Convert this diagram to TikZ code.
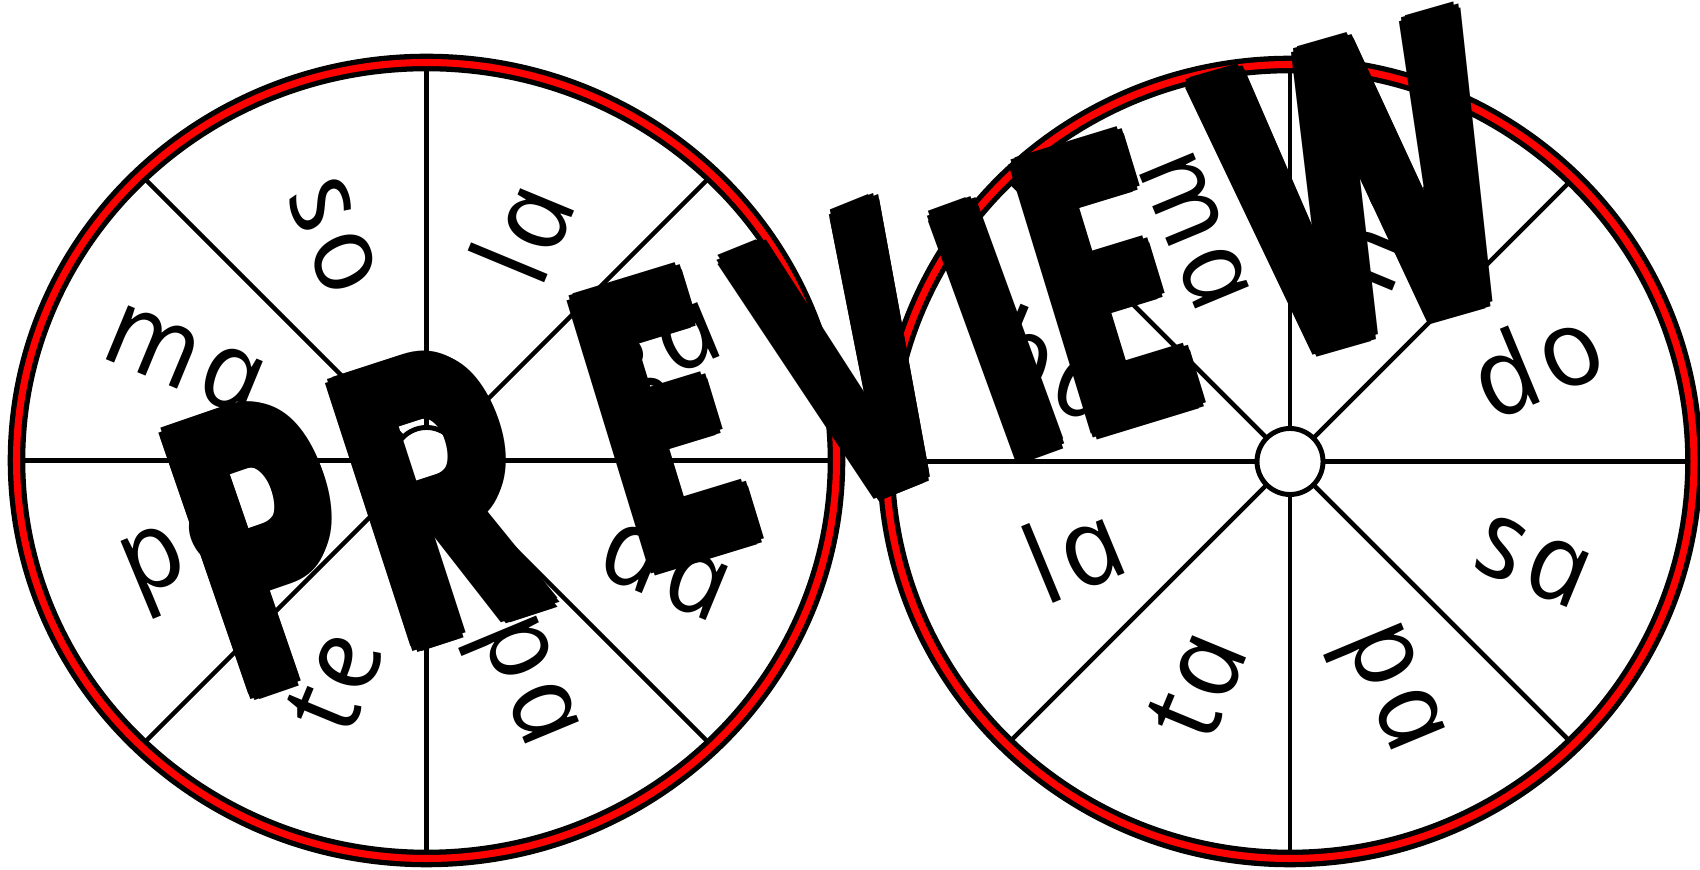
\documentclass[tikz,border=0pt]{standalone}
\usepackage{fontspec}
\newfontfamily\sylfont{Open Sans}[LetterSpace=6]
\newfontfamily\wmfont{Poppins}
\tikzset{
  spoke/.style={line width=1.3pt, draw=black},
  ringout/.style={line width=5pt, draw=black},
  ringin/.style={line width=2pt, draw=red},
  hub/.style={line width=1.4pt, draw=black, fill=white},
  syl/.style={font=\sylfont\itshape\fontsize{31}{31}\selectfont, inner sep=0pt, xslant=-0.2126},
  wm/.style={font=\wmfont\bfseries\fontsize{#1}{#1}\selectfont, inner sep=0pt, text=black},
}
\newcommand\wheel[4]{%
  \begin{scope}
    \clip (#1,#2) ellipse [x radius=#3, y radius=#4];
    \foreach \a in {0,45,...,315} \draw[spoke] (#1,#2) -- ++(\a:700);
  \end{scope}
  \draw[ringout] (#1,#2) ellipse [x radius=#3, y radius=#4];
  \draw[ringin] (#1,#2) ellipse [x radius=#3, y radius=#4];
  \draw[hub] (#1,#2) circle (33);
}
% #1 x, #2 y, #3 rotation, #4 name, #5 letter, #6 xscale, #7 size
\newcommand\wmletter[7]{%
  \foreach \dx/\dy in {1.8/0,-1.8/0,0/1.8,0/-1.8,1.3/1.3,-1.3/1.3,1.3/-1.3,-1.3/-1.3}
    \node[wm=#7, xshift=\dx pt, yshift=\dy pt, rotate=#3, xscale=#6] at (#1,#2) {#5};
  \node[wm=#7, rotate=#3, xscale=#6] (#4) at (#1,#2) {#5};
}
\begin{document}
\begin{tikzpicture}[x=0.01cm, y=0.01cm]
  \useasboundingbox (0,0) rectangle (1700,870);
  \fill[white] (0,0) rectangle (1700,870);

  % left wheel
  \wheel{426.5}{409.5}{410}{398}
  \begin{scope}[shift={(426.5,409.5)}]
    \node[rotate=67.5, syl]  (l1) at (67.5:245)   {la};
    \node[rotate=22.5, syl]  (l2) at (22.5:260)   {ga};
    \node[rotate=-22.5, syl] (l3) at (-22.5:260)  {da};
    \node[rotate=-67.5, syl] (l4) at (-67.5:245)  {pa};
    \node[rotate=67.5, syl]  (l5) at (-112.5:240) {te};
    \node[rotate=22.5, syl]  (l6) at (-157.5:258) {pe};
    \node[rotate=-22.5, syl] (l7) at (157.5:262)  {ma};
    \node[rotate=-67.5, syl] (l8) at (112.5:242)  {so};
  \end{scope}

  % right wheel
  \wheel{1290}{408.5}{404}{397}
  \begin{scope}[shift={(1290,408.5)}]
    \node[rotate=67.5, syl]  (r1) at (67.5:250)   {ne};
    \node[rotate=22.5, syl]  (r2) at (22.5:263)   {do};
    \node[rotate=-22.5, syl] (r3) at (-22.5:263)  {sa};
    \node[rotate=-67.5, syl] (r4) at (-67.5:251)  {pa};
    \node[rotate=67.5, syl]  (r5) at (-112.5:243) {ta};
    \node[rotate=22.5, syl]  (r6) at (-157.5:237) {la};
    \node[rotate=-22.5, syl] (r7) at (157.5:255)  {ba};
    \node[rotate=-67.5, syl] (r8) at (112.5:250)  {ma};
  \end{scope}

  % watermark
  \wmletter{268}{326}{19}{w1}{P}{0.62}{112}
  \wmletter{440}{376}{18}{w2}{R}{0.66}{112}
  \wmletter{664}{450}{17}{w3}{E}{0.62}{114}
  \wmletter{850}{512}{22}{w4}{V}{0.58}{112}
  \wmletter{996}{540}{20}{w5}{I}{0.64}{104}
  \wmletter{1106}{586}{17}{w6}{E}{0.62}{114}
  \wmletter{1362}{684}{16}{w7}{W}{0.66}{118}
\end{tikzpicture}
\end{document}
